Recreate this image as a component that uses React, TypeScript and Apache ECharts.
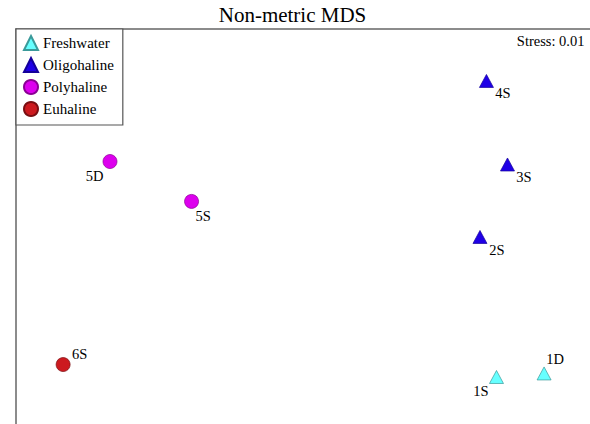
import React, { useEffect, useRef } from "react";
import * as echarts from "echarts";

const groups = ["Freshwater", "Oligohaline", "Polyhaline", "Euhaline"];
const groupColors = ["#66ffff", "#1f00e6", "#dd00ee", "#cc1a1f"];
const groupBorders = ["#3a9a9a", "#14009a", "#8a0094", "#7a0f12"];
const groupSymbols = ["triangle", "triangle", "circle", "circle"];

const freshwater = [
  { name: "1S", x: 0.809, y: -0.762 },
  { name: "1D", x: 1.008, y: -0.744 },
];
const oligohaline = [
  { name: "2S", x: 0.74, y: -0.053 },
  { name: "3S", x: 0.855, y: 0.314 },
  { name: "4S", x: 0.767, y: 0.737 },
];
const polyhaline = [
  { name: "5S", x: -0.466, y: 0.127 },
  { name: "5D", x: -0.807, y: 0.329 },
];
const euhaline = [{ name: "6S", x: -1.003, y: -0.699 }];

const stressLabel = "Stress: 0.01";
const titleText = "Non-metric MDS";

// label placement (style only)
const labelOffsets: Record<string, [number, number]> = {
  "1S": [-15.5, 14.5],
  "1D": [11, -14],
  "2S": [17, 13],
  "3S": [16.5, 13],
  "4S": [16.5, 12],
  "5S": [11.5, 14.5],
  "5D": [-15.5, 14],
  "6S": [16.5, -10.5],
};

const FONT = "Liberation Serif, Times New Roman, serif";

export default function App() {
  const ref = useRef<HTMLDivElement>(null);
  useEffect(() => {
    if (!ref.current) return;
    const chart = echarts.init(ref.current, null, { renderer: "svg" });
    const allData = [freshwater, oligohaline, polyhaline, euhaline];
    const series = groups.map((g, i) => ({
      name: g,
      type: "scatter",
      symbol: groupSymbols[i],
      symbolSize: groupSymbols[i] === "triangle" ? [14, 13] : 14,
      itemStyle: {
        color: groupColors[i],
        borderColor: groupBorders[i],
        borderWidth: 0.7,
        opacity: 1,
      },
      data: allData[i].map((p) => ({
        name: p.name,
        value: [p.x, p.y],
        label: {
          show: true,
          formatter: p.name,
          position: "inside",
          offset: labelOffsets[p.name] || [0, 0],
          fontFamily: FONT,
          fontSize: 14.5,
          color: "#000",
        },
      })),
    }));
    chart.setOption({
      animation: false,
      backgroundColor: "#fff",
      grid: { left: 16, top: 29, right: 0, bottom: 0, containLabel: false },
      xAxis: {
        type: "value",
        min: -1.2,
        max: 1.2,
        position: "top",
        axisLine: { show: true, onZero: false, lineStyle: { color: "#666", width: 1.5 } },
        axisTick: { show: false },
        axisLabel: { show: false },
        splitLine: { show: false },
      },
      yAxis: {
        type: "value",
        min: -1,
        max: 1,
        position: "left",
        axisLine: { show: true, onZero: false, lineStyle: { color: "#666", width: 1.5 } },
        axisTick: { show: false },
        axisLabel: { show: false },
        splitLine: { show: false },
      },
      legend: {
        show: true,
        orient: "vertical",
        left: 16,
        top: 29,
        padding: [6, 9, 8, 7],
        itemGap: 6,
        itemWidth: 14,
        itemHeight: 14,
        borderColor: "#555",
        borderWidth: 1.2,
        backgroundColor: "#fff",
        data: groups,
        textStyle: { fontFamily: FONT, fontSize: 15, color: "#000", lineHeight: 14 },
      },
      graphic: [
        {
          type: "text",
          x: 292.5,
          y: 15,
          style: {
            text: titleText,
            fontFamily: FONT,
            fontSize: 21,
            fill: "#000",
            align: "center",
            verticalAlign: "middle",
          },
        },
        {
          type: "text",
          x: 584.5,
          y: 40.5,
          style: {
            text: stressLabel,
            fontFamily: FONT,
            fontSize: 14.5,
            fill: "#000",
            align: "right",
            verticalAlign: "middle",
          },
        },
      ],
      series,
    });
    return () => chart.dispose();
  }, []);
  return <div ref={ref} style={{ width: 590, height: 424, position: "fixed", left: 0, top: 0 }} />;
}
